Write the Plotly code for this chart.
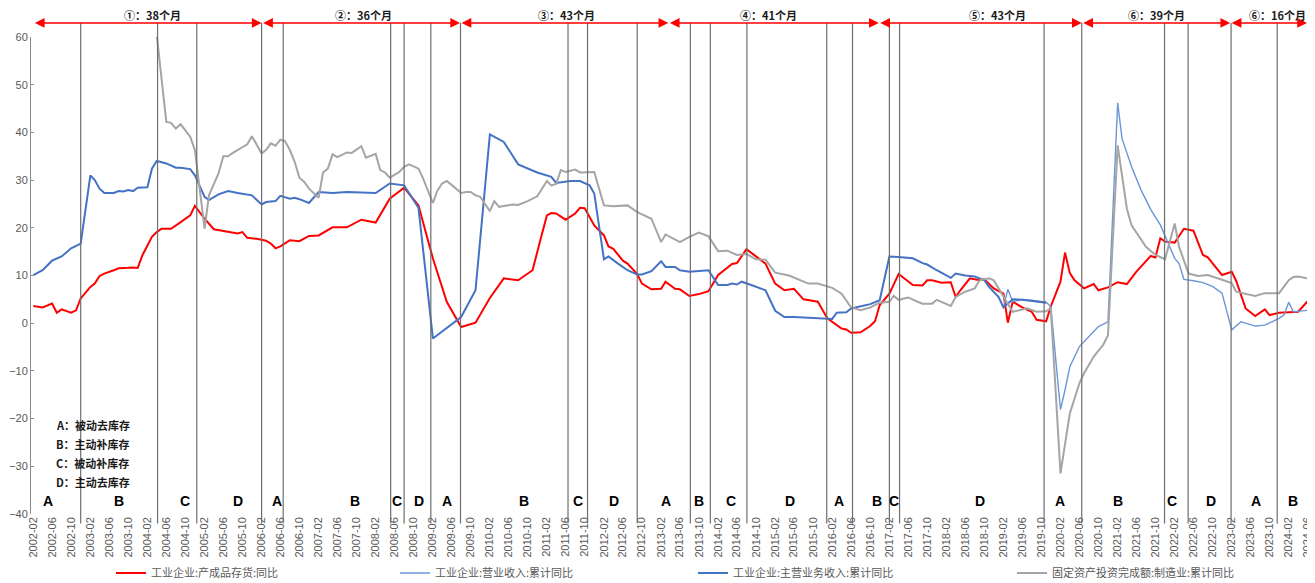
import plotly.graph_objects as go

# ---------------- data ----------------
red_name = "工业企业:产成品存货:同比"
red_dates = ["2002-02","2002-04","2002-06","2002-07","2002-08","2002-10","2002-11","2002-12",
 "2003-02","2003-03","2003-04","2003-05","2003-07","2003-08","2003-10","2003-11","2003-12",
 "2004-01","2004-03","2004-04","2004-05","2004-07","2004-09","2004-11","2004-12",
 "2005-02","2005-04","2005-06","2005-09","2005-10","2005-11","2006-01","2006-03","2006-04",
 "2006-05","2006-06","2006-08","2006-10","2006-12","2007-02","2007-05","2007-08","2007-11",
 "2008-02","2008-05","2008-08","2008-11","2009-02","2009-05","2009-08","2009-11",
 "2010-02","2010-05","2010-08","2010-11","2011-01","2011-02","2011-03","2011-04","2011-06",
 "2011-08","2011-09","2011-10","2011-12","2012-02","2012-03","2012-04","2012-06","2012-07",
 "2012-09","2012-10","2012-12","2013-02","2013-03","2013-05","2013-06","2013-08","2013-10",
 "2013-12","2014-02","2014-04","2014-05","2014-06","2014-08","2014-10","2014-12",
 "2015-02","2015-04","2015-06","2015-08","2015-11","2016-01","2016-04","2016-05","2016-06",
 "2016-08","2016-10","2016-11","2016-12","2017-02","2017-04","2017-05","2017-07","2017-09",
 "2017-10","2017-11","2018-01","2018-03","2018-04","2018-05","2018-07","2018-09","2018-10",
 "2018-12","2019-02","2019-03","2019-04","2019-06","2019-08","2019-09","2019-11","2019-12",
 "2020-02","2020-03","2020-04","2020-05","2020-07","2020-09","2020-10","2020-12",
 "2021-02","2021-04","2021-06","2021-09","2021-10","2021-11","2021-12","2022-02","2022-04",
 "2022-06","2022-08","2022-09","2022-12","2023-02","2023-03","2023-05","2023-07","2023-09",
 "2023-10","2023-12","2024-04","2024-06"]
red_vals = [3.6,3.3,4.1,2.2,2.9,2.2,2.7,5.2,
 7.6,8.3,9.9,10.4,11.1,11.5,11.6,11.7,11.6,
 14.3,18.1,19.1,19.8,19.8,21.2,22.6,24.6,
 21.9,19.7,19.3,18.8,19.1,17.9,17.7,17.3,16.7,
 15.7,16.1,17.4,17.2,18.3,18.4,20.1,20.1,21.7,
 21.1,26.1,28.4,24.7,13.6,4.5,-0.8,0.1,
 5.3,9.4,9.0,11.1,18.8,22.6,23.1,23.0,21.7,
 23.0,24.2,24.1,20.5,18.4,16.1,15.6,13.1,12.5,
 10.3,8.3,7.1,7.2,8.7,7.2,7.1,5.7,6.1,
 6.7,10.1,11.5,12.4,12.6,15.5,14.0,12.5,
 8.3,6.9,7.2,5.0,4.5,1.0,-1.1,-1.3,-2.0,
 -1.9,-0.6,0.4,3.8,6.2,10.3,9.5,8.0,7.9,
 9.0,9.0,8.5,8.6,5.5,6.9,9.4,9.0,9.2,
 7.3,6.2,0.1,4.5,3.3,2.4,0.7,0.4,3.5,
 8.7,14.8,10.5,9.0,7.3,8.2,6.9,7.5,
 8.6,8.2,10.8,14.1,13.8,17.8,17.1,16.9,19.8,
 19.4,14.3,13.8,10.1,10.8,8.9,3.1,1.5,2.9,
 1.7,2.2,2.4,4.6]

rev_name = "工业企业:营业收入:累计同比"
rev_dates = ["2019-02","2019-03","2019-04","2019-06","2019-08","2019-10","2019-11","2019-12",
 "2020-02","2020-03","2020-04","2020-06","2020-08","2020-10","2020-12",
 "2021-02","2021-03","2021-05","2021-07","2021-09","2021-11","2021-12",
 "2022-02","2022-03","2022-04","2022-06","2022-08","2022-10","2022-12",
 "2023-02","2023-04","2023-05","2023-07","2023-09","2023-12","2024-01","2024-02","2024-03","2024-06"]
rev_vals = [3.3,7.1,4.5,5.0,4.8,4.5,4.4,3.5,
 -18.1,-14.0,-9.1,-4.9,-2.8,-0.7,0.3,
 46.2,38.7,32.8,27.9,23.8,20.6,18.2,
 13.6,12.5,9.2,8.9,8.5,7.7,6.3,
 -1.4,0.3,0.0,-0.6,-0.4,1.0,1.7,4.4,2.4,2.7]

main_name = "工业企业:主营业务收入:累计同比"
main_dates = ["2002-02","2002-04","2002-06","2002-08","2002-10","2002-12",
 "2003-02","2003-03","2003-04","2003-05","2003-07","2003-08","2003-09","2003-10","2003-11","2003-12",
 "2004-02","2004-03","2004-04","2004-06","2004-08","2004-09","2004-11","2004-12",
 "2005-02","2005-03","2005-05","2005-07","2005-09","2005-12","2006-02","2006-03","2006-05",
 "2006-06","2006-08","2006-09","2006-10","2006-12","2007-02","2007-05","2007-08","2008-02",
 "2008-05","2008-08","2008-11","2009-02","2009-08","2009-11","2010-02","2010-05","2010-08",
 "2010-10","2010-12","2011-03","2011-04","2011-07","2011-09","2011-11","2011-12",
 "2012-02","2012-03","2012-05","2012-07","2012-09","2012-10","2012-12","2013-02","2013-03",
 "2013-05","2013-06","2013-08","2013-12","2014-02","2014-04","2014-05","2014-06","2014-07",
 "2014-09","2014-12","2015-02","2015-04","2015-06","2015-10","2016-01","2016-02","2016-03",
 "2016-05","2016-06","2016-10","2016-12","2017-02","2017-04","2017-07","2017-09","2017-10",
 "2017-12","2018-03","2018-04","2018-06","2018-08","2018-10","2018-11","2019-01",
 "2019-02","2019-04","2019-06","2019-08","2019-10","2019-11"]
main_vals = [10.1,11.1,13.1,14.0,15.7,16.7,
 31.0,30.0,28.2,27.3,27.3,27.7,27.6,27.9,27.7,28.4,
 28.5,32.4,34.0,33.5,32.6,32.6,32.3,31.0,
 26.5,25.8,27.0,27.7,27.3,26.8,24.9,25.4,25.6,
 26.7,26.1,26.3,26.0,25.2,27.5,27.3,27.5,27.3,
 29.3,28.9,24.2,-3.2,1.3,6.9,39.6,38.0,33.3,
 32.4,31.6,30.7,29.4,29.8,29.8,28.9,27.2,
 13.4,14.0,12.5,11.1,10.2,10.2,10.9,13.0,11.8,
 11.8,11.1,10.8,11.1,8.0,8.0,8.3,8.1,8.7,
 8.0,6.9,2.6,1.3,1.3,1.1,0.9,0.9,2.2,
 2.3,3.1,4.0,4.8,14.0,13.9,13.6,12.6,12.3,
 11.1,9.5,10.4,10.0,9.8,9.0,7.6,5.5,
 3.3,5.0,4.9,4.7,4.4,4.3]

fai_name = "固定资产投资完成额:制造业:累计同比"
fai_dates = ["2004-04","2004-06","2004-07","2004-08","2004-09","2004-10","2004-11","2004-12",
 "2005-02","2005-03","2005-05","2005-06","2005-07","2005-08","2005-09","2005-11","2005-12",
 "2006-02","2006-03","2006-04","2006-05","2006-06","2006-07","2006-08","2006-09","2006-10",
 "2006-11","2006-12","2007-02","2007-03","2007-04","2007-05","2007-06","2007-07","2007-08",
 "2007-09","2007-10","2007-11","2007-12","2008-02","2008-03","2008-04","2008-05","2008-07",
 "2008-08","2008-09","2008-11","2008-12","2009-02","2009-03","2009-04","2009-05","2009-06",
 "2009-08","2009-09","2009-10","2009-11","2009-12","2010-02","2010-03","2010-04","2010-06",
 "2010-07","2010-08","2010-10","2010-12","2011-02","2011-03","2011-04","2011-05","2011-06",
 "2011-08","2011-09","2011-12","2012-02","2012-04","2012-07","2012-09","2012-12","2013-02",
 "2013-03","2013-06","2013-08","2013-10","2013-12","2014-02","2014-04","2014-06","2014-08",
 "2014-10","2014-12","2015-02","2015-05","2015-09","2015-11","2016-02","2016-04","2016-06",
 "2016-08","2016-10","2016-12","2017-02","2017-03","2017-04","2017-06","2017-08","2017-09",
 "2017-11","2017-12","2018-03","2018-04","2018-06","2018-08","2018-09","2018-11","2018-12",
 "2019-02","2019-04","2019-07","2019-09","2019-11","2019-12","2020-02","2020-04","2020-06",
 "2020-07","2020-09","2020-11","2020-12","2021-02","2021-04","2021-05","2021-08","2021-10",
 "2021-12","2022-02","2022-03","2022-05","2022-07","2022-09","2022-12","2023-02","2023-03",
 "2023-05","2023-07","2023-09","2023-12","2024-02","2024-03","2024-04","2024-06"]
fai_vals = [60.4,42.2,42.0,40.8,41.7,40.3,39.1,36.3,
 19.8,26.8,31.4,35.0,35.0,35.7,36.3,37.5,39.2,
 35.6,36.3,37.7,37.2,38.5,38.2,36.3,33.8,30.5,
 29.6,28.2,26.3,31.6,32.4,35.4,34.8,35.3,35.8,
 35.7,36.4,37.1,34.7,35.5,32.1,31.6,30.5,31.7,
 32.8,33.3,32.4,30.3,25.2,27.7,29.3,29.8,29.0,
 27.3,27.5,27.5,26.8,26.5,23.5,25.6,24.4,24.8,
 24.9,24.8,25.6,26.6,29.8,28.9,29.2,32.1,31.7,
 32.2,31.6,31.7,24.7,24.5,24.7,23.3,21.9,17.0,
 18.6,17.0,18.1,19.0,18.2,15.1,15.2,14.3,14.5,
 13.4,13.3,10.6,10.0,8.3,8.3,7.4,6.2,3.3,
 2.7,3.3,4.3,4.5,5.7,4.9,5.4,4.5,4.1,
 4.1,4.9,3.6,5.5,6.6,7.3,9.0,9.4,9.0,
 5.5,2.4,3.1,2.4,2.5,3.1,-31.5,-18.9,-12.6,
 -10.5,-7.0,-4.5,-2.5,37.3,24.0,20.5,16.0,14.3,
 13.4,20.9,16.0,10.4,9.9,10.1,9.1,8.4,6.6,
 6.1,5.7,6.3,6.3,9.0,9.7,9.8,9.4]

# phase boundaries (vertical lines) and phase letters
phase_bounds = ["2002-12-01","2004-04-06","2004-12-13","2006-02-01","2006-06-19","2008-05-07",
 "2008-08-01","2009-01-19","2009-07-28","2011-06-16","2011-10-19","2012-09-01","2013-08-07",
 "2013-12-13","2014-08-04","2015-12-28","2016-06-10","2017-02-01","2017-04-07","2019-10-19",
 "2020-06-16","2021-11-28","2022-04-28","2023-01-28","2023-11-19","2024-06-07"]
phase_letters = ["A","B","C","D","A","B","C","D","A","B","C","D","A","B","C","D","A","B","C","D",
 "A","B","C","D","A","B"]
phase_label_at = ["2002-05-07","2003-08-04","2004-09-28","2005-09-04","2006-05-10","2007-09-22",
 "2008-06-19","2008-11-07","2009-05-04","2010-09-10","2011-08-19","2012-04-07","2013-03-04",
 "2013-10-04","2014-04-25","2015-05-07","2016-03-16","2016-11-16","2017-03-04","2018-09-07",
 "2020-02-01","2021-02-01","2022-01-16","2022-09-22","2023-07-07","2024-02-25"]

# inventory cycles (arrows on top)
cycle_starts = ["2002-02-01","2006-02-01","2009-07-25","2013-03-19","2016-11-25","2020-06-16","2023-01-22"]
cycle_ends = ["2006-02-01","2009-07-25","2013-03-19","2016-11-25","2020-06-16","2023-01-22","2024-05-28"]
cycle_labels = ["①：38个月","②：36个月","③：43个月","④：41个月","⑤：43个月","⑥：39个月","⑥：16个月"]
cycle_label_at = ["2004-03-07","2007-11-13","2011-06-04","2014-12-19","2018-12-28","2021-10-07","2023-11-19"]

phase_key = ["A：被动去库存","B：主动补库存","C：被动补库存","D：主动去库存"]

# ---------------- figure ----------------
FONT = "Liberation Sans, Arial, Noto Sans CJK SC, sans-serif"
CJK = "Noto Sans CJK SC, Liberation Sans, sans-serif"
X0, X1 = "2002-01-17", "2024-06-16"

fig = go.Figure()
fig.add_trace(go.Scatter(x=red_dates, y=red_vals, name=red_name, mode="lines",
                         line=dict(color="#FF0000", width=2), legend="legend"))
fig.add_trace(go.Scatter(x=rev_dates, y=rev_vals, name=rev_name, mode="lines",
                         line=dict(color="#6A96D8", width=1.4), legend="legend2"))
fig.add_trace(go.Scatter(x=main_dates, y=main_vals, name=main_name, mode="lines",
                         line=dict(color="#4472C4", width=2), legend="legend3"))
fig.add_trace(go.Scatter(x=fai_dates, y=fai_vals, name=fai_name, mode="lines",
                         line=dict(color="#A5A5A5", width=2), legend="legend4"))

shapes = []
for b in phase_bounds:
    shapes.append(dict(type="line", xref="x", yref="paper", x0=b, x1=b, y0=-0.02, y1=1.03,
                       line=dict(color="#6E6E6E", width=1.2), layer="above"))

ann = []
for s, e in zip(cycle_starts, cycle_ends):
    ann.append(dict(x=e, y=1.0294, xref="x", yref="paper", ax=s, ay=0, axref="x", ayref="pixel",
                    text="", showarrow=True, arrowhead=2, startarrowhead=2, arrowside="end+start",
                    arrowsize=1.3, startarrowsize=1.3, arrowwidth=1.5, arrowcolor="#FF0000",
                    standoff=0, startstandoff=0))
for t, at in zip(cycle_labels, cycle_label_at):
    ann.append(dict(x=at, y=1.046, xref="x", yref="paper", text="<b>" + t + "</b>", showarrow=False,
                    font=dict(family=CJK, size=11, color="#1a1a1a"), yanchor="middle"))
for L, at in zip(phase_letters, phase_label_at):
    ann.append(dict(x=at, y=-37.3, xref="x", yref="y", text="<b>" + L + "</b>", showarrow=False,
                    font=dict(family=FONT, size=14, color="#000000"), yanchor="middle"))
for i, t in enumerate(phase_key):
    ann.append(dict(x=0.018, y=0.1866 - i * 0.0395, xref="paper", yref="paper", text="<b>" + t + "</b>",
                    showarrow=False, xanchor="left", yanchor="middle",
                    font=dict(family=CJK, size=11, color="#1a1a1a")))

leg_common = dict(orientation="h", yanchor="middle", y=-0.1237, xanchor="left",
                  font=dict(family=CJK, size=11, color="#595959"), bgcolor="rgba(0,0,0,0)",
                  itemwidth=30, borderwidth=0)

# the page body has an 8px default margin: the figure is sized/offset so it fits the window
fig.update_layout(
    width=1307, height=575,
    margin=dict(l=23, r=5, t=29, b=69, autoexpand=False),
    paper_bgcolor="white", plot_bgcolor="white",
    font=dict(family=FONT, color="#595959"),
    showlegend=True,
    legend=dict(x=0.0625, **leg_common),
    legend2=dict(x=0.2846, **leg_common),
    legend3=dict(x=0.5176, **leg_common),
    legend4=dict(x=0.767, **leg_common),
    xaxis=dict(type="date", range=[X0, X1], tick0="2002-02-01", dtick="M4", tickformat="%Y-%m",
               tickangle=-90, tickfont=dict(family=FONT, size=11, color="#595959"),
               showline=False, ticks="", showgrid=False, zeroline=False, automargin=False),
    xaxis2=dict(type="date", range=[X0, X1], overlaying="x", anchor="free", position=0.4,
                tick0="2002-05-16", dtick="M4", showticklabels=False, ticks="outside", ticklen=4,
                tickcolor="#8C8C8C", showline=True, linecolor="#8C8C8C", linewidth=1,
                showgrid=False, zeroline=False),
    yaxis=dict(range=[-40, 60], dtick=10, tick0=0, showgrid=False, zeroline=False,
               showline=True, linecolor="#8C8C8C", linewidth=1, ticks="inside", ticklen=3,
               tickcolor="#8C8C8C", tickfont=dict(family=FONT, size=11, color="#595959"),
               automargin=False),
    shapes=shapes, annotations=ann,
)

fig.write_html("out.html")
